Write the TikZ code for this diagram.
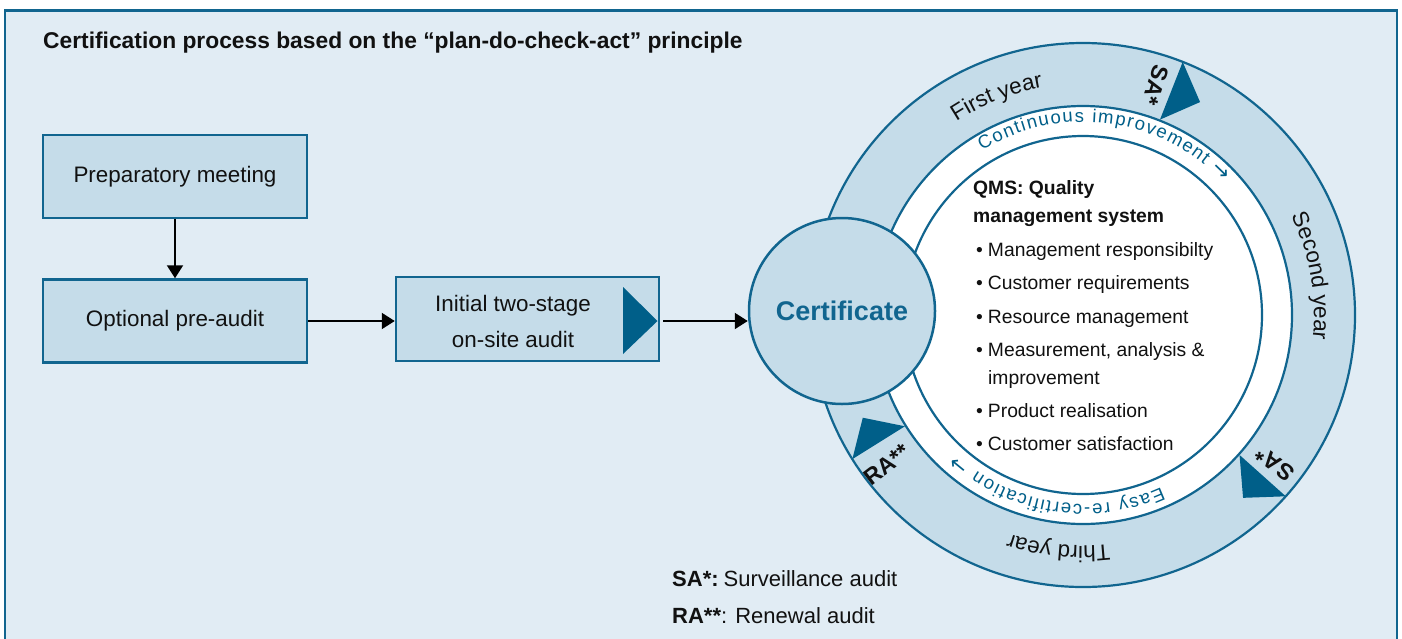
\documentclass[tikz,border=0pt]{standalone}
\usepackage{fontspec}
\setmainfont{Liberation Sans}
\newfontfamily\arrowfont{DejaVu Sans}
\usetikzlibrary{arrows.meta,decorations.text,calc}
\definecolor{bgc}{HTML}{E1ECF4}
\definecolor{ringc}{HTML}{C5DCE9}
\definecolor{lnc}{HTML}{11658F}
\definecolor{trc}{HTML}{005F89}
\definecolor{txc}{HTML}{111111}
\newcommand{\fs}[1]{\fontsize{#1pt}{#1pt}\selectfont}
\begin{document}
\begin{tikzpicture}[x=1pt,y=1pt,
  boxst/.style={draw=lnc, line width=2.5pt, fill=ringc, minimum width=264pt, minimum height=83pt, inner sep=0pt},
  boxtxt/.style={font=\fontsize{22.4pt}{36pt}\selectfont, align=center, text=txc, inner sep=0pt},
  arr/.style={-{Triangle[length=13pt,width=16pt]}, line width=2pt, black},
  ringline/.style={lnc, line width=2.2pt},
  ringlabel/.style={decorate, decoration={text along path, text align=center, text color=txc, text={|\fs{22.5}|#1}}},
  bandlabel/.style={decorate, decoration={text along path, text align=fit to path, text color=trc, text={|\fs{18.5}|#1 |\arrowfont\fs{21}|→}}},
  auditmark/.style={font=\bfseries\fs{23}, text=txc, inner sep=0pt},
  qms/.style={anchor=base west, font=\bfseries\fs{19.3}, text=txc, inner sep=0pt},
  bul/.style={anchor=base west, font=\fs{19.3}, text=txc, inner sep=0pt},
  leg/.style={anchor=base west, font=\fs{22}, text=txc, inner sep=0pt}
]
\useasboundingbox (0,0) rectangle (1402,-638);
% frame
\draw[lnc, line width=2.5pt, fill=bgc] (5,-10.5) rectangle (1397,-660);
% title
\node[anchor=base west, font=\bfseries\fs{22.8}, text=txc, inner sep=0pt] (title) at (43,-48) {Certification process based on the “plan-do-check-act” principle};

% left boxes
\node[boxst] (prep) at (175,-176.5) {};
\node[boxtxt] (prepT) at (prep.center) {Preparatory meeting};
\node[boxst] (pre) at (175,-321) {};
\node[boxtxt] (preT) at (pre.center) {Optional pre-audit};
\node[boxst, minimum width=263pt, minimum height=84pt] (init) at (527.5,-319) {};
\node[boxtxt] (initT) at (513,-321) {Initial two-stage\\on-site audit};
\fill[trc] (623,-287) -- (657.5,-321) -- (623,-354) -- cycle;

% ring
\coordinate (C) at (1083,-315);
\fill[ringc] (C) circle[radius=272];
\draw[ringline] (C) circle[radius=272];
\draw[ringline, fill=white] (C) circle[radius=209];
\draw[ringline] (C) circle[radius=179];

% triangles
\fill[trc] ($(C)+(68.5:272)$) -- ($(C)+(61.2:243)$) -- ($(C)+(68.5:210)$) -- cycle;
\fill[trc] ($(C)+(-41.8:272)$) -- ($(C)+(-48.8:243)$) -- ($(C)+(-41.8:210)$) -- cycle;
\fill[trc] ($(C)+(212:272)$) -- ($(C)+(205:243)$) -- ($(C)+(212:210)$) -- cycle;

% marks
\node[auditmark, rotate=-107.8] (sa1) at ($(C)+(72.4:241)$) {SA*};
\node[auditmark, rotate=142] (sa2) at ($(C)+(-37.8:243)$) {SA*};
\node[auditmark, rotate=37.3] (ra) at ($(C)+(217.3:247)$) {RA**};

% ring labels
\path[ringlabel={First year}] ($(C)+(151.6:231)$) arc[start angle=151.6, end angle=71.6, radius=231];
\path[ringlabel={Second year}] ($(C)+(49.7:231)$) arc[start angle=49.7, end angle=-30.3, radius=231];
\path[ringlabel={Third year}] ($(C)+(-56:231)$) arc[start angle=-56, end angle=-136, radius=231];

% band labels
\path[bandlabel={Continuous improvement}] ($(C)+(121.5:193)$) arc[start angle=121.5, end angle=43.5, radius=193];
\path[bandlabel={Easy re-certification}] ($(C)+(-65.5:189)$) arc[start angle=-65.5, end angle=-132, radius=189];

% QMS text
\node[qms] (q1) at (973,-194) {QMS: Quality};
\node[qms] (q2) at (973,-222) {management system};
\node[bul] (b1) at (976,-256) {•\hspace{5pt}Management responsibilty};
\node[bul] (b2) at (976,-289) {•\hspace{5pt}Customer requirements};
\node[bul] (b3) at (976,-323) {•\hspace{5pt}Resource management};
\node[bul] (b4) at (976,-356) {•\hspace{5pt}Measurement, analysis \&};
\node[bul] (b4b) at (988,-384) {improvement};
\node[bul] (b5) at (976,-417) {•\hspace{5pt}Product realisation};
\node[bul] (b6) at (976,-450) {•\hspace{5pt}Customer satisfaction};

% certificate
\node[circle, draw=lnc, line width=2.5pt, fill=ringc, minimum size=186pt, inner sep=0pt, font=\bfseries\fs{27}, text=lnc] (cert) at (842,-311) {Certificate};

% arrows
\draw[arr] (prep.south) -- (pre.north);
\draw[arr] (pre.east) -- (pre.east -| init.west);
\coordinate (a3) at (663,-321);
\draw[arr] (a3) -- (a3 -| cert.west);

% legend
\node[leg] (l1) at (672,-586) {\textbf{SA*:}\hspace{5pt}Surveillance audit};
\node[leg] (l2) at (672,-623) {\textbf{RA**}: Renewal audit};
\end{tikzpicture}
\end{document}
